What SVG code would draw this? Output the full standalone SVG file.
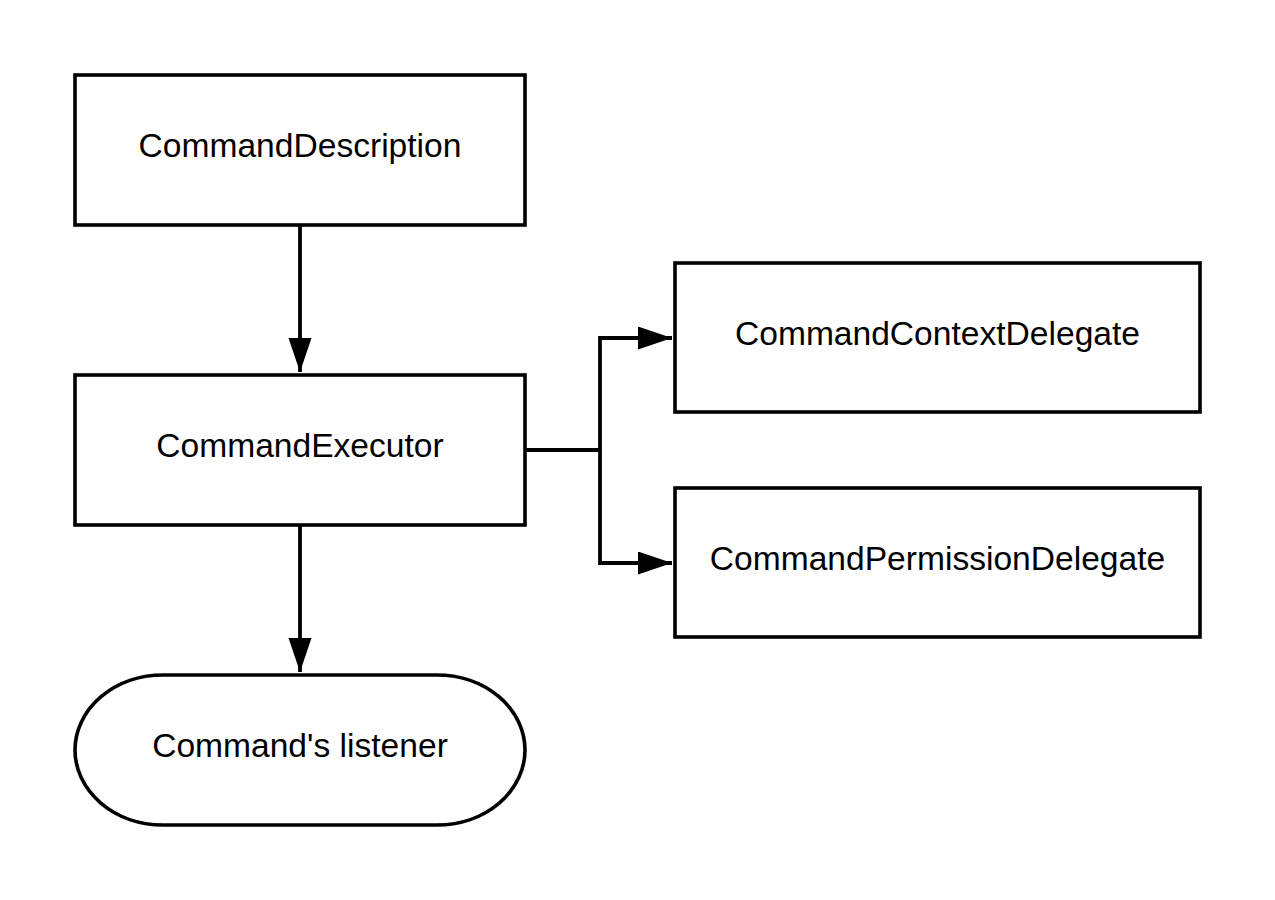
<svg xmlns="http://www.w3.org/2000/svg" width="1275" height="900" viewBox="0 0 1275 900">
<style>
.box{fill:#fff;stroke:#000;stroke-width:3.6}
.lbl{font-family:"Liberation Sans",Arial,sans-serif;font-size:33.6px;fill:#000;text-anchor:middle}
.conn{fill:none;stroke:#000;stroke-width:3.8}
</style>
<defs>
<marker id="arr" markerUnits="userSpaceOnUse" markerWidth="36" markerHeight="24" refX="34" refY="11.5" orient="auto" viewBox="0 0 36 24">
<path d="M0,0 L34,11.5 L0,23 Z" fill="#000"/>
</marker>
</defs>
<rect width="1275" height="900" fill="#fff"/>
<g id="connectors">
<path class="conn" d="M300,225 V372" marker-end="url(#arr)"/>
<path class="conn" d="M300,525 V672" marker-end="url(#arr)"/>
<path class="conn" d="M525,450 H600 V338 H672" marker-end="url(#arr)"/>
<path class="conn" d="M600,450 V563 H672" marker-end="url(#arr)"/>
</g>
<g id="commandDescription">
<rect class="box" x="75" y="75" width="450" height="150"/>
<text class="lbl" x="300" y="157">CommandDescription</text>
</g>
<g id="commandExecutor">
<rect class="box" x="75" y="375" width="450" height="150"/>
<text class="lbl" x="300" y="457">CommandExecutor</text>
</g>
<g id="commandContextDelegate">
<rect class="box" x="675" y="263" width="525" height="149"/>
<text class="lbl" x="937.5" y="345">CommandContextDelegate</text>
</g>
<g id="commandPermissionDelegate">
<rect class="box" x="675" y="488" width="525" height="149"/>
<text class="lbl" x="937.5" y="570">CommandPermissionDelegate</text>
</g>
<g id="commandsListener">
<path class="box" d="M163,675 H437 A88,75 0 0 1 437,825 H163 A88,75 0 0 1 163,675 Z"/>
<text class="lbl" x="300" y="757">Command's listener</text>
</g>
</svg>
